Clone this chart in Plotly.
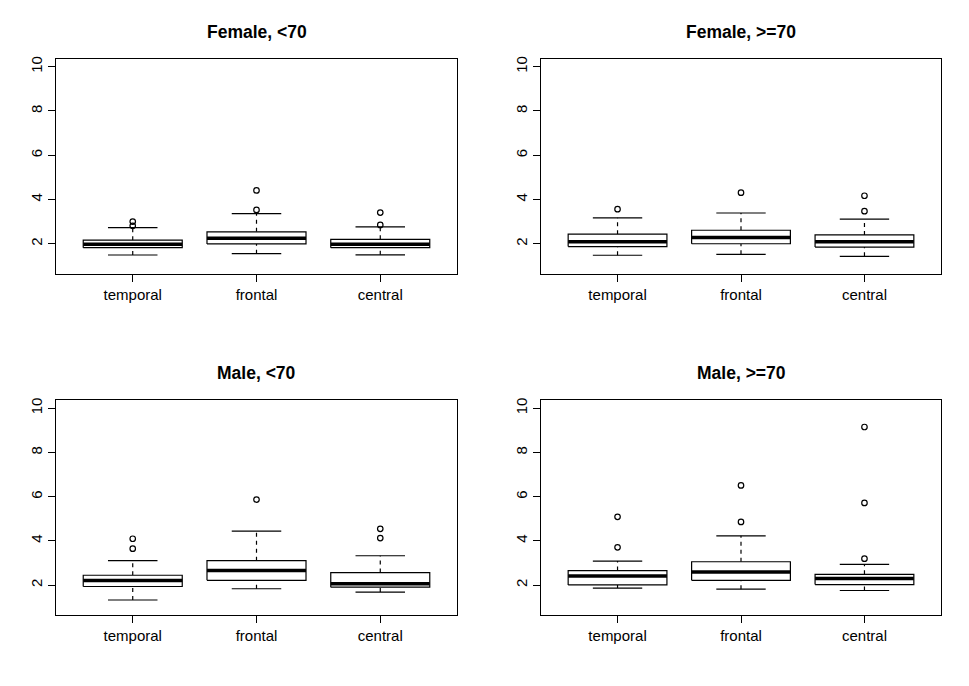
import plotly.graph_objects as go

regions = ["temporal", "frontal", "central"]
titles = ["Female, <70", "Female, >=70", "Male, <70", "Male, >=70"]

# five-number summaries, one row per panel, one value per region
lower = [[1.49, 1.55, 1.50], [1.48, 1.52, 1.43], [1.33, 1.84, 1.69], [1.87, 1.82, 1.76]]
q1 = [[1.82, 1.99, 1.82], [1.87, 2.00, 1.85], [1.94, 2.22, 1.91], [2.01, 2.22, 2.03]]
median = [[1.98, 2.25, 1.98], [2.09, 2.28, 2.09], [2.21, 2.66, 2.06], [2.42, 2.60, 2.30]]
q3 = [[2.16, 2.54, 2.20], [2.43, 2.61, 2.40], [2.45, 3.11, 2.57], [2.66, 3.06, 2.49]]
upper = [[2.73, 3.36, 2.76], [3.17, 3.39, 3.11], [3.11, 4.44, 3.33], [3.09, 4.23, 2.94]]
outliers = [
    [[3.00, 2.81], [4.41, 3.53], [3.41, 2.85]],
    [[3.56], [4.31], [4.17, 3.47]],
    [[4.10, 3.65], [5.87], [4.55, 4.13]],
    [[5.09, 3.71], [6.51, 4.86], [9.15, 5.72, 3.20]],
]
y_ticks = [2, 4, 6, 8, 10]

# page is 969x686, the body keeps an 8px margin round the figure
PAD = 8
W, H = 969 - 2 * PAD, 686 - 2 * PAD
pos = [1, 2, 3]
half = 0.4      # boxwex 0.8
staple = 0.2    # staplewex 0.5
FONT = "Liberation Sans, Arial, sans-serif"

# plot boxes in page pixels (left, right), (top, bottom)
x_pix = [(56, 457), (541, 941)]
y_pix = [(56, 272), (399, 615)]
title_y = [29, 372]

fig = go.Figure()

for k in range(4):
    row, col = divmod(k, 2)
    xa = "x" if k == 0 else f"x{k + 1}"
    ya = "y" if k == 0 else f"y{k + 1}"

    bx, by, mx, my, wx, wy, sx, sy, ox, oy = [], [], [], [], [], [], [], [], [], []
    for i, p in enumerate(pos):
        bx += [p - half, p + half, p + half, p - half, p - half, None]
        by += [q1[k][i], q1[k][i], q3[k][i], q3[k][i], q1[k][i], None]
        mx += [p - half, p + half, None]
        my += [median[k][i], median[k][i], None]
        wx += [p, p, None, p, p, None]
        wy += [q3[k][i], upper[k][i], None, lower[k][i], q1[k][i], None]
        sx += [p - staple, p + staple, None, p - staple, p + staple, None]
        sy += [upper[k][i], upper[k][i], None, lower[k][i], lower[k][i], None]
        ox += [p] * len(outliers[k][i])
        oy += outliers[k][i]

    fig.add_trace(go.Scatter(x=wx, y=wy, mode="lines", xaxis=xa, yaxis=ya,
                             line=dict(color="black", width=1.2, dash="4px,4px")))
    fig.add_trace(go.Scatter(x=sx, y=sy, mode="lines", xaxis=xa, yaxis=ya,
                             line=dict(color="black", width=1.2)))
    fig.add_trace(go.Scatter(x=bx, y=by, mode="lines", fill="toself", fillcolor="white",
                             xaxis=xa, yaxis=ya, line=dict(color="black", width=1.2)))
    fig.add_trace(go.Scatter(x=mx, y=my, mode="lines", xaxis=xa, yaxis=ya,
                             line=dict(color="black", width=3.5)))
    fig.add_trace(go.Scatter(x=ox, y=oy, mode="markers", xaxis=xa, yaxis=ya,
                             marker=dict(symbol="circle-open", size=5.5, color="black",
                                         line=dict(width=1.2))))

    x0, x1 = [v - PAD for v in x_pix[col]]
    y0, y1 = [v - PAD for v in y_pix[row]]
    common = dict(showgrid=False, zeroline=False, showline=True, mirror=True,
                  linecolor="black", linewidth=1, ticks="outside", ticklen=7,
                  tickcolor="black", tickwidth=1,
                  tickfont=dict(family=FONT, size=15, color="black"))
    fig.layout[xa.replace("x", "xaxis")] = dict(
        domain=[x0 / W, x1 / W], range=[0.38, 3.62], anchor=ya,
        tickmode="array", tickvals=pos, ticktext=regions, **common)
    fig.layout[ya.replace("y", "yaxis")] = dict(
        domain=[1 - y1 / H, 1 - y0 / H], range=[0.64, 10.36], anchor=xa,
        tickmode="array", tickvals=y_ticks, tickangle=-90, **common)

    fig.add_annotation(text=f"<b>{titles[k]}</b>", xref="paper", yref="paper",
                       x=(x0 + x1) / 2 / W, y=1 - (title_y[row] - PAD) / H,
                       xanchor="center", yanchor="middle", showarrow=False,
                       font=dict(family=FONT, size=17.5, color="black"))

fig.update_layout(
    width=W, height=H, autosize=False,
    margin=dict(l=0, r=0, t=0, b=0),
    paper_bgcolor="white", plot_bgcolor="white",
    showlegend=False,
    font=dict(family=FONT, size=15, color="black"),
)

fig.write_html("out.html")
